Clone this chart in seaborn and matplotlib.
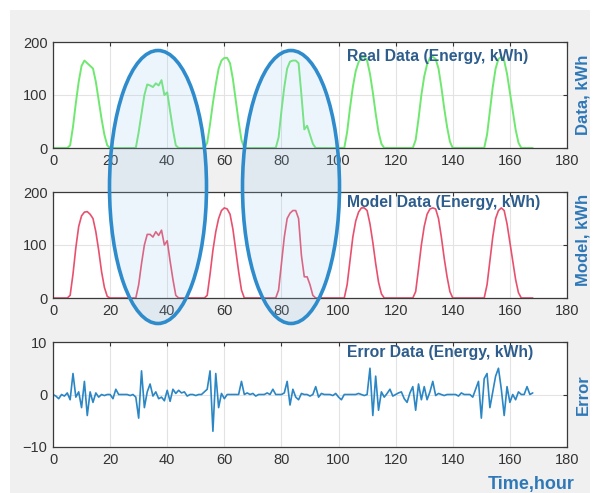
import numpy as np
import pandas as pd
import matplotlib
matplotlib.use("Agg")
import matplotlib.pyplot as plt
from matplotlib.patches import Ellipse, Rectangle
import seaborn as sns

# ---------------- data ----------------
hours = list(range(0, 169))

real_kwh = [
    0, 0, 0, 0, 0, 0, 5, 40, 85, 125,
    155, 165, 160, 155, 150, 125, 90, 55, 25, 5,
    0, 0, 0, 0, 0, 0, 0, 0, 0, 0,
    30, 65, 100, 120, 118, 115, 122, 118, 128, 100,
    105, 70, 35, 5, 0, 0, 0, 0, 0, 0,
    0, 0, 0, 0, 10, 45, 85, 120, 150, 165,
    170, 170, 160, 130, 90, 50, 15, 0, 0, 0,
    0, 0, 0, 0, 0, 0, 0, 0, 0, 20,
    70, 115, 150, 163, 165, 165, 160, 100, 35, 42,
    25, 8, 0, 0, 0, 0, 0, 0, 0, 0,
    0, 0, 0, 30, 75, 115, 145, 162, 170, 172,
    165, 140, 105, 65, 30, 8, 0, 0, 0, 0,
    0, 0, 0, 0, 0, 0, 0, 15, 55, 100,
    135, 158, 170, 172, 168, 150, 115, 75, 40, 12,
    0, 0, 0, 0, 0, 0, 0, 0, 0, 0,
    0, 0, 25, 70, 115, 150, 168, 172, 165, 140,
    105, 70, 35, 10, 0, 0, 0, 0, 0,
]

model_kwh = [
    0, 0, 0, 0, 0, 0, 5, 45, 95, 135,
    155, 162, 163, 158, 150, 125, 90, 50, 20, 3,
    0, 0, 0, 0, 0, 0, 0, 0, 0, 0,
    25, 65, 100, 120, 120, 115, 125, 118, 128, 100,
    108, 70, 35, 5, 0, 0, 0, 0, 0, 0,
    0, 0, 0, 0, 5, 45, 90, 125, 150, 165,
    170, 168, 158, 130, 90, 50, 15, 0, 0, 0,
    0, 0, 0, 0, 0, 0, 0, 0, 0, 15,
    65, 115, 150, 160, 165, 165, 150, 80, 40, 40,
    25, 5, 0, 0, 0, 0, 0, 0, 0, 0,
    0, 0, 0, 25, 70, 115, 145, 162, 170, 170,
    165, 140, 105, 65, 30, 8, 0, 0, 0, 0,
    0, 0, 0, 0, 0, 0, 0, 12, 55, 100,
    135, 158, 168, 170, 168, 150, 115, 75, 40, 12,
    0, 0, 0, 0, 0, 0, 0, 0, 0, 0,
    0, 0, 25, 70, 115, 150, 165, 170, 165, 140,
    105, 70, 35, 10, 0, 0, 0, 0, 0,
]

error_kwh = [
    0, -0.3, -0.8, 0, -0.3, 0.3, -1, 4, -0.5, 0.5,
    -2.5, 2.5, -4, 0.5, -1.5, 0.3, -0.5, 0, -0.2, 0,
    0, -0.8, 1, 0, 0, 0, 0, -0.2, 0, -0.5,
    -4.5, 4.5, -2.5, 0.5, 2, -0.3, 0.5, -0.8, -0.5, -1.2,
    0.8, -1.3, 1, 0.2, 0.8, 0.3, 0.5, -0.3, 0, 0,
    -0.2, 0, 0, 0.5, 1, 4.5, -7, 4, -2.5, 0.2,
    -0.8, 0, 0, 0, 0, 0, 2.5, 0, 0.3, 0,
    0.2, -0.3, 0, 0, 0, 0.3, 0, 1, 0, 0,
    0, 0.3, 2.5, -2, 1, -0.5, -1, 0.2, 0, 0,
    -0.3, 0, 1.5, -0.5, 0.2, 0, 0, 0, -0.2, 0.2,
    -0.5, -1, 0, 0, 0, 0, 0, 0.2, 0, -0.2,
    0, 5, -4, 3.5, -3, 0.5, -0.5, 0.2, 1, -0.3,
    0, 0.3, 0.5, -0.8, -1.5, 0.3, 1.5, -3, 2, -1,
    1.5, -1, 0.5, 2.5, -0.2, 0.2, 0, -0.2, 0, 0,
    0, 0, -0.3, 0.3, 0, 0, 0, -0.5, 1, 2.5,
    -4.5, 3, 4, -2.5, 0.5, 3.5, 5, 1, -4, 1.5,
    -1.5, 0, -1, 0.5, 0, 0, 1.5, 0, 0.3,
]

x_ticks = [0, 20, 40, 60, 80, 100, 120, 140, 160, 180]
titles = ["Real Data (Energy, kWh)", "Model Data (Energy, kWh)", "Error Data (Energy, kWh)"]
side_labels = ["Data, kWh", "Model, kWh", "Error"]
x_label = "Time,hour"

df = pd.DataFrame({"hour": hours, "real": real_kwh, "model": model_kwh, "error": error_kwh})

# ---------------- style ----------------
sns.set_style("white")
plt.rcParams["font.family"] = ["Liberation Sans", "DejaVu Sans"]

W, H = 595, 493
fig = plt.figure(figsize=(W / 100, H / 100), dpi=100, facecolor="white")
fig.add_artist(Rectangle((10 / W, 0), 580 / W, 1 - 10 / H, transform=fig.transFigure,
                         facecolor="#f0f0f0", edgecolor="none", zorder=-10))

def px_axes(left, top, right, bottom):
    return fig.add_axes([left / W, 1 - bottom / H, (right - left) / W, (bottom - top) / H])

ax1 = px_axes(53, 42, 567, 148)
ax2 = px_axes(53, 192, 567, 298)
ax3 = px_axes(53, 342, 567, 447)

sns.lineplot(data=df, x="hour", y="real", ax=ax1, color="#6fe86f", linewidth=1.4)
sns.lineplot(data=df, x="hour", y="model", ax=ax2, color="#e8506e", linewidth=1.2)
sns.lineplot(data=df, x="hour", y="error", ax=ax3, color="#2a86c4", linewidth=1.2)

title_color = "#2d5d8c"
label_color = "#2e78b8"
for ax, ylim, yt, ttl, lab, ty, ly in [
    (ax1, (0, 200), [0, 100, 200], titles[0], side_labels[0], 0.86, 0.5),
    (ax2, (0, 200), [0, 100, 200], titles[1], side_labels[1], 0.9, 0.55),
    (ax3, (-10, 10), [-10, 0, 10], titles[2], side_labels[2], 0.9, 0.5),
]:
    ax.set_xlim(0, 180)
    ax.set_ylim(*ylim)
    ax.set_xticks(x_ticks)
    ax.set_yticks(yt)
    ax.set_facecolor("white")
    ax.grid(True, color="#e3e3e3", linewidth=0.8)
    ax.tick_params(direction="in", length=3, width=0.8, colors="#333333",
                   labelsize=10.5, top=True, right=True, pad=4)
    for sp in ax.spines.values():
        sp.set_color("#3a3a3a")
        sp.set_linewidth(0.9)
        sp.set_visible(True)
    ax.set_xlabel("")
    ax.set_ylabel("")
    ax.text(0.572, ty, ttl, transform=ax.transAxes, ha="left", va="center",
            fontsize=11.3, fontweight="bold", color=title_color)
    ax.text(1.031, ly, lab, transform=ax.transAxes, ha="center", va="center",
            rotation=90, fontsize=12, fontweight="bold", color=label_color)

fig.text(531 / W, 1 - 484 / H, x_label, ha="center", va="center",
         fontsize=13, fontweight="bold", color=label_color)

for cx in (158, 291):
    fig.add_artist(Ellipse((cx / W, 1 - 187 / H), 97 / W, 273 / H, transform=fig.transFigure,
                           facecolor=(0.62, 0.80, 0.95, 0.18), edgecolor="#2f8ccc",
                           linewidth=2.6, zorder=5))

fig.savefig("out.png", dpi=100, facecolor=fig.get_facecolor())
